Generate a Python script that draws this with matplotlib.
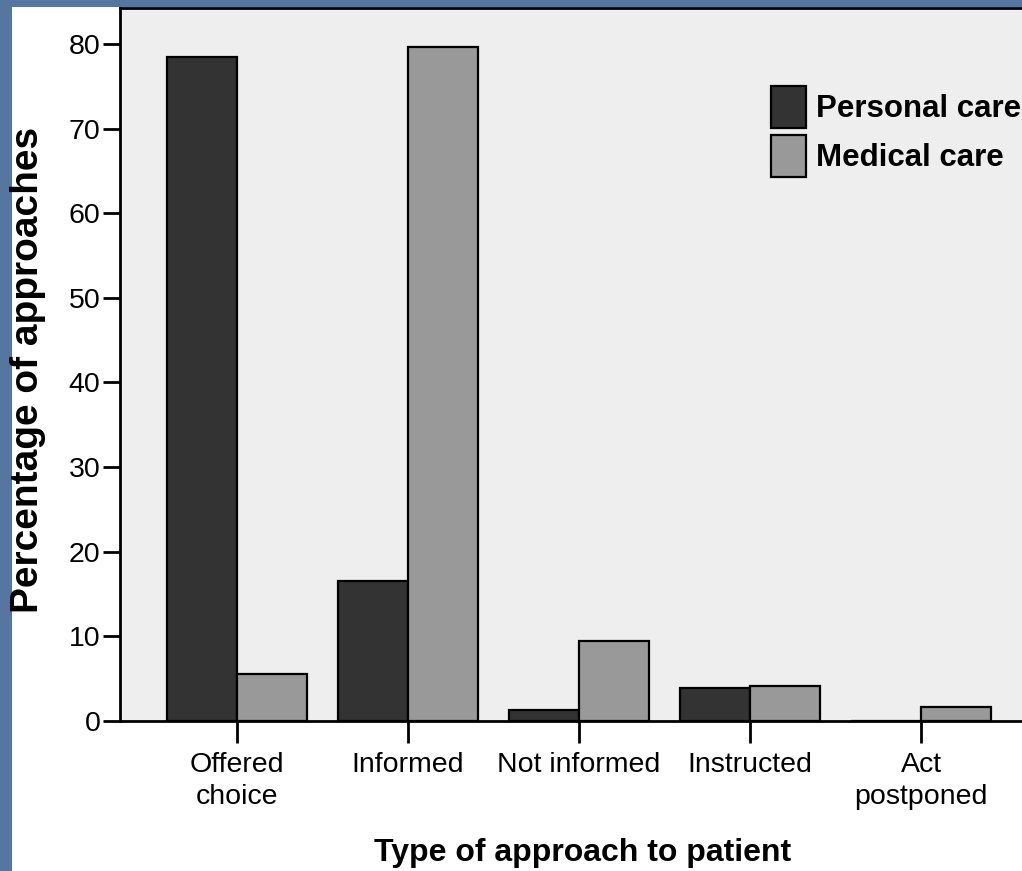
import matplotlib
matplotlib.use('Agg')
import matplotlib.pyplot as plt
import numpy as np

categories = ['Offered\nchoice', 'Informed', 'Not informed', 'Instructed', 'Act\npostponed']
personal = [78.5, 16.5, 1.3, 3.9, 0.0]
medical = [5.6, 79.7, 9.5, 4.1, 1.7]
series_names = ['Personal care', 'Medical care']

plt.rcParams['font.family'] = ['Liberation Sans', 'DejaVu Sans']

fig = plt.figure(figsize=(10.22, 8.71), dpi=100)
fig.patch.set_facecolor('#5676a0')
# white slide panel
fig.add_artist(plt.Rectangle((12 / 1022, 0), 1, 1 - 7 / 871,
                             transform=fig.transFigure, facecolor='white',
                             edgecolor='none', zorder=0))

ax = fig.add_axes([120 / 1022, 150 / 871, 1 - 120 / 1022 + 0.01, (721 - 8) / 871])
ax.set_facecolor('#eeeeee')

x = np.arange(len(categories))
w = 0.41
ax.bar(x - w / 2, personal, w, color='#333333', edgecolor='black', linewidth=1.6,
       label=series_names[0], zorder=3)
ax.bar(x + w / 2, medical, w, color='#999999', edgecolor='black', linewidth=1.6,
       label=series_names[1], zorder=3)

ax.set_xlim(-0.685, 4.65)
ax.set_ylim(0, 84.25)
ax.set_yticks(range(0, 81, 10))
ax.set_xticks(x)
ax.set_xticklabels(categories, fontsize=20.5, linespacing=1.3)
ax.tick_params(axis='y', labelsize=20.5, length=12, width=2, pad=2)
ax.tick_params(axis='x', length=16, width=2, pad=6)

for s in ['left', 'top', 'bottom', 'right']:
    ax.spines[s].set_linewidth(2)

ax.set_xlabel('Type of approach to patient', fontsize=23, fontweight='bold')
ax.xaxis.set_label_coords(0.507, -0.164)
fig.text(28 / 1022, 1 - 370 / 871, 'Percentage of approaches', fontsize=28,
         fontweight='bold', rotation=90, ha='center', va='center')

ax.legend(loc='upper left', bbox_to_anchor=(771 / 1022, 1 - 86 / 871),
          bbox_transform=fig.transFigure, frameon=False,
          prop={'size': 22.5, 'weight': 'bold'}, handlelength=1.12,
          handleheight=1.69, handletextpad=0.32, labelspacing=0.22,
          borderpad=0, borderaxespad=0)

fig.savefig('out.png', dpi=100, facecolor=fig.get_facecolor())
